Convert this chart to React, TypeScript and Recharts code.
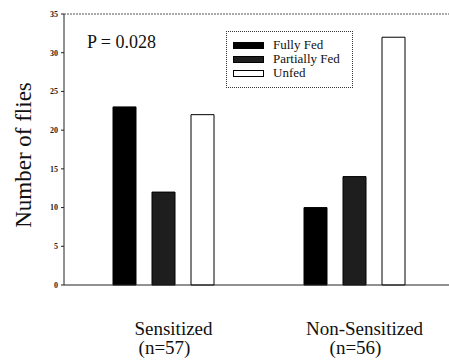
import { BarChart, Bar, XAxis, YAxis, ReferenceLine } from "recharts";

const groups = ["Sensitized", "Non-Sensitized"];
const groupSizes = ["(n=57)", "(n=56)"];
const fullyFed = [23, 10];
const partiallyFed = [12, 14];
const unfed = [22, 32];
const yTicks = [0, 5, 10, 15, 20, 25, 30, 35];

const data = groups.map((g, i) => ({
  group: g,
  size: groupSizes[i],
  fully: fullyFed[i],
  partial: partiallyFed[i],
  unfed: unfed[i],
}));

const serif = "'Liberation Serif', 'DejaVu Serif', serif";

const series = [
  { key: "fully", label: "Fully Fed", fill: "#000" },
  { key: "partial", label: "Partially Fed", fill: "#1e1e1e" },
  { key: "unfed", label: "Unfed", fill: "#fff" },
];

const GroupTick = (props: any) => {
  const { x, y, payload, index } = props;
  return (
    <g>
      <text x={x + 10} y={y + 42} textAnchor="middle" fontFamily={serif} fontSize={19} fill="#111">
        {payload.value}
      </text>
      <text x={x + 1} y={y + 61} textAnchor="middle" fontFamily={serif} fontSize={19} fill="#111">
        {groupSizes[index]}
      </text>
    </g>
  );
};

// legend sits over the plot, so it is drawn as an overlay instead of <Legend>
const LegendBox = () => (
  <div
    style={{
      position: "absolute",
      left: 226,
      top: 31,
      width: 127,
      height: 57,
      border: "1px dotted #333",
      background: "#fff",
      boxSizing: "border-box",
      paddingTop: 6,
      fontFamily: serif,
      fontSize: 13,
      color: "#111",
    }}
  >
    {series.map((r) => (
      <div key={r.key} style={{ display: "flex", alignItems: "center", height: 14 }}>
        <span
          style={{
            display: "inline-block",
            width: 31,
            height: 7,
            marginLeft: 6,
            marginRight: 9,
            background: r.fill,
            border: "1px solid #000",
            boxSizing: "border-box",
          }}
        />
        <span>{r.label}</span>
      </div>
    ))}
  </div>
);

export default function App() {
  return (
    <div style={{ position: "absolute", left: 0, top: 0, width: 449, height: 363, background: "#fff", overflow: "hidden" }}>
      <BarChart
        width={450}
        height={363}
        data={data}
        margin={{ top: 14, right: 0, bottom: 0, left: 24 }}
        barSize={23}
        barGap={16}
      >
        <XAxis
          dataKey="group"
          axisLine={{ stroke: "#222" }}
          tickLine={false}
          tick={<GroupTick />}
          interval={0}
          height={78}
          padding={{ left: 4, right: 0 }}
        />
        <YAxis
          width={40}
          domain={[0, 35]}
          ticks={yTicks}
          interval={0}
          axisLine={{ stroke: "#222" }}
          tickLine={{ stroke: "#222" }}
          tickSize={3}
          tickMargin={3}
          tick={{ fontFamily: serif, fontSize: 8, fontWeight: "bold", fill: "#222" }}
        />
        <ReferenceLine y={35} stroke="#555" strokeDasharray="2 1" />
        {series.map((s) => (
          <Bar
            key={s.key}
            dataKey={s.key}
            name={s.label}
            fill={s.fill}
            stroke="#000"
            isAnimationActive={false}
          />
        ))}
      </BarChart>
      <LegendBox />
      <svg
        width={449}
        height={363}
        style={{ position: "absolute", left: 0, top: 0, pointerEvents: "none" }}
      >
        <text x={87} y={48} fontFamily={serif} fontSize={18} fill="#111">
          P = 0.028
        </text>
        <text
          x={0}
          y={0}
          transform="translate(31,155) rotate(-90)"
          textAnchor="middle"
          fontFamily={serif}
          fontSize={23}
          fill="#111"
        >
          Number of flies
        </text>
      </svg>
    </div>
  );
}
